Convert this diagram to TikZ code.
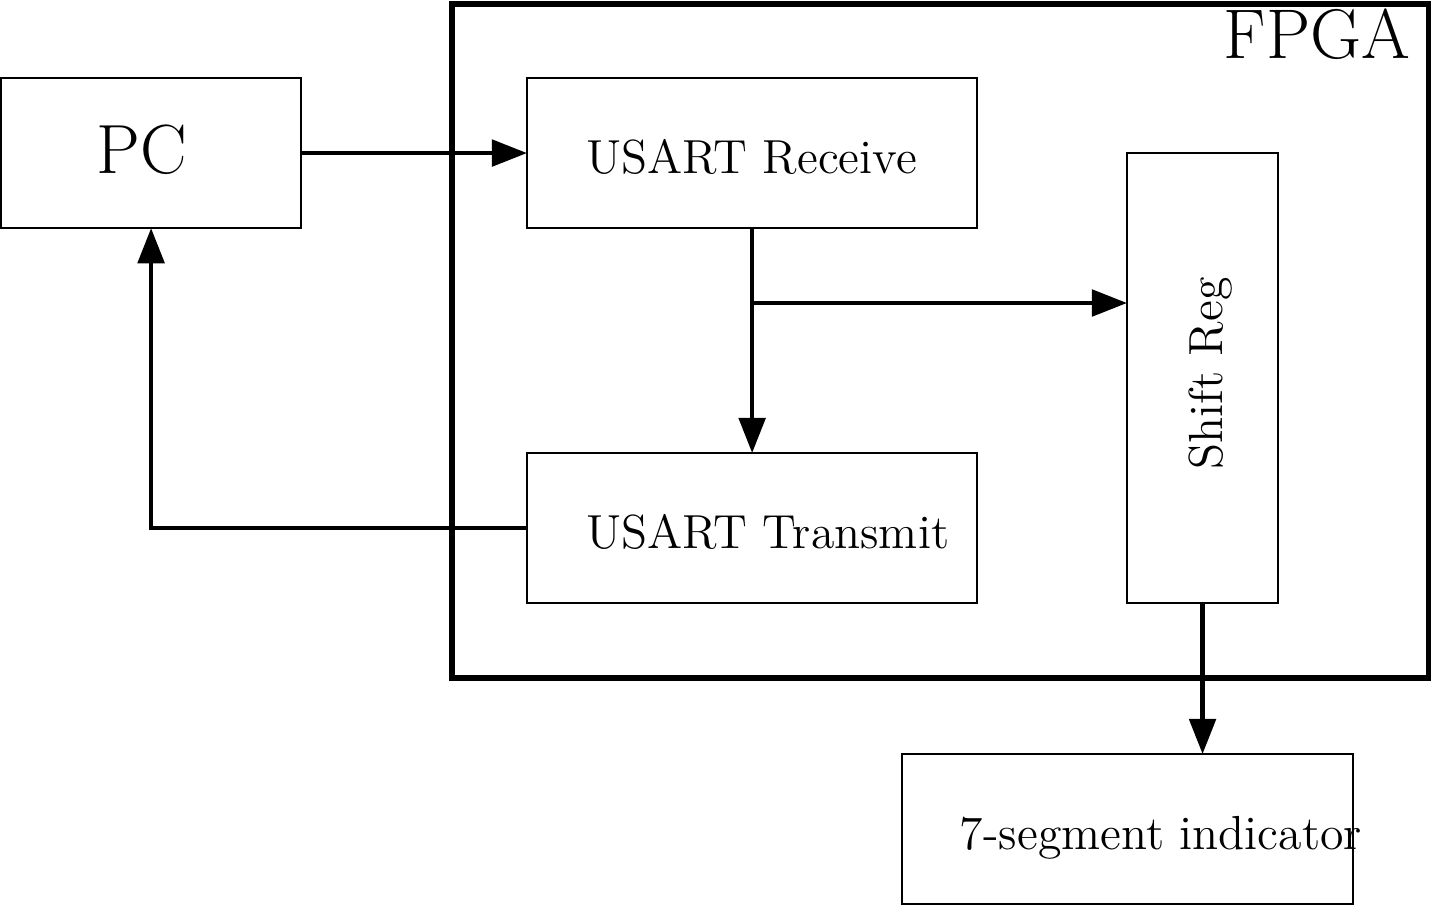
\documentclass[tikz,border=0pt]{standalone}
\usetikzlibrary{arrows.meta}
\begin{document}
\begin{tikzpicture}[x=0.01cm,y=-0.01cm,
  box/.style={draw,line width=0.6pt,minimum width=#1,inner sep=0pt,outer sep=0pt},
  lbl/.style={anchor=base west,inner sep=0pt,font=\fontsize{13.6}{16}\selectfont},
  big/.style={anchor=base west,inner sep=0pt,font=\fontsize{19.8}{23}\selectfont},
  conn/.style={line width=1.25pt,-{Triangle[length=10pt,width=7.5pt]}},
  wire/.style={line width=1.25pt}]
\useasboundingbox (0,0) rectangle (1431,905);
% FPGA frame
\node[draw,line width=1.7pt,minimum width=9.76cm,minimum height=6.74cm,inner sep=0pt,outer sep=0pt,anchor=north west] (fpga) at (452,4) {};
\node[big,font=\fontsize{20}{23}\selectfont] (fpgat) at (1223,58) {FPGA};
% boxes
\node[box=3cm,minimum height=1.5cm,anchor=north west] (pc) at (1,78) {};
\node[box=4.5cm,minimum height=1.5cm,anchor=north west] (rx) at (527,78) {};
\node[box=4.5cm,minimum height=1.5cm,anchor=north west] (tx) at (527,453) {};
\node[box=1.51cm,minimum height=4.5cm,anchor=north west] (sr) at (1127,153) {};
\node[box=4.51cm,minimum height=1.5cm,anchor=north west] (seg) at (902,754) {};
% labels
\node[big] (pct) at (96,173) {PC};
\node[lbl] (rxt) at (586,173) {USART Receive};
\node[lbl] (txt) at (586,548) {USART Transmit};
\node[lbl,rotate=90] (srt) at (1222,470) {Shift Reg};
\node[lbl] (segt) at (959,849) {7-segment indicator};
% connectors
\draw[conn] (pc.east) -- (rx.west);
\draw[conn] (rx.south) -- (tx.north);
\coordinate (br) at (rx.south |- 0,303);
\draw[conn] (br) -- (br -| sr.west);
\draw[conn] (sr.south) -- (seg.north -| sr.south);
\draw[conn] (tx.west) -| (pc.south);
\end{tikzpicture}
\end{document}
